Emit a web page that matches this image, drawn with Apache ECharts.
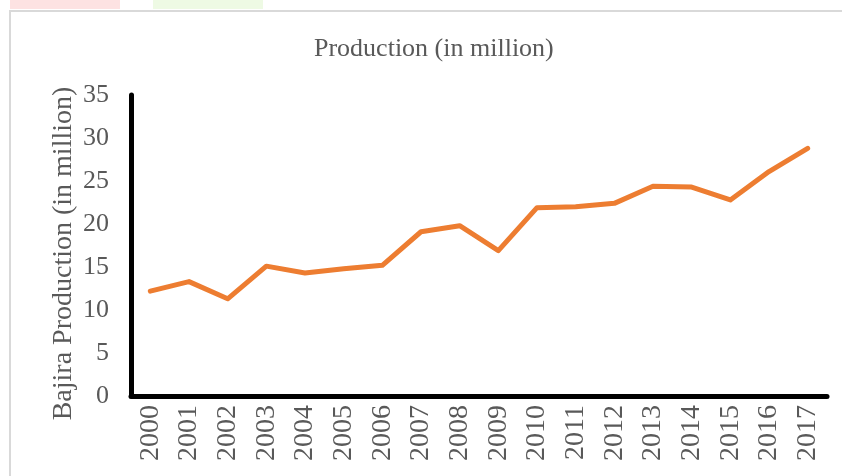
<!DOCTYPE html>
<html>
<head>
<meta charset="utf-8">
<script src="https://cdn.jsdelivr.net/npm/echarts@6/dist/echarts.min.js"></script>
<style>html,body{margin:0;padding:0;background:#fff;}#c{width:842px;height:476px;}</style>
</head>
<body>
<div id="c"></div>
<script>
const years = ['2000','2001','2002','2003','2004','2005','2006','2007','2008','2009','2010','2011','2012','2013','2014','2015','2016','2017'];
const production = [12.2, 13.3, 11.3, 15.1, 14.3, 14.8, 15.2, 19.1, 19.8, 16.9, 21.9, 22.0, 22.4, 24.4, 24.3, 22.8, 26.1, 28.8];
const yTicks = { min: 0, max: 35, interval: 5 };

const chart = echarts.init(document.getElementById('c'));
const font = '"Liberation Serif", "Times New Roman", serif';
chart.setOption({
  animation: false,
  backgroundColor: '#fff',
  graphic: [
    { type: 'rect', shape: { x: 10, y: 0, width: 110, height: 9 }, style: { fill: '#fde2e2' }, silent: true },
    { type: 'rect', shape: { x: 153, y: 0, width: 110, height: 9 }, style: { fill: '#eefae4' }, silent: true },
    { type: 'rect', shape: { x: 10, y: 11, width: 900, height: 500 }, style: { fill: 'none', stroke: '#d9d9d9', lineWidth: 2 }, silent: true }
  ],
  title: {
    text: 'Production (in million)',
    left: 309,
    top: 31,
    textStyle: { fontFamily: font, fontSize: 26, fontWeight: 'normal', color: '#595959' }
  },
  grid: { left: 131, right: 15, top: 95, bottom: 80, containLabel: false },
  xAxis: {
    type: 'category',
    data: years,
    boundaryGap: true,
    axisLine: { lineStyle: { color: '#000', width: 5 } },
    axisTick: { show: false },
    axisLabel: { rotate: 90, margin: 9, fontFamily: font, fontSize: 28, color: '#595959', interval: 0 },
    splitLine: { show: false }
  },
  yAxis: {
    type: 'value',
    min: yTicks.min, max: yTicks.max, interval: yTicks.interval,
    name: 'Bajira Production (in million)',
    nameLocation: 'middle',
    nameGap: 53,
    nameMoveOverlap: false,
    nameTextStyle: { fontFamily: font, fontSize: 28, color: '#595959', padding: [0, 16, 0, 0] },
    axisLine: { show: true, lineStyle: { color: '#000', width: 5 } },
    axisTick: { show: false },
    axisLabel: { margin: 22, fontFamily: font, fontSize: 26, color: '#595959' },
    splitLine: { show: false }
  },
  series: [{
    type: 'line',
    data: production,
    showSymbol: false,
    lineStyle: { color: '#ED7D31', width: 5, cap: 'round', join: 'round' },
    itemStyle: { color: '#ED7D31' }
  }]
});
</script>
</body>
</html>
